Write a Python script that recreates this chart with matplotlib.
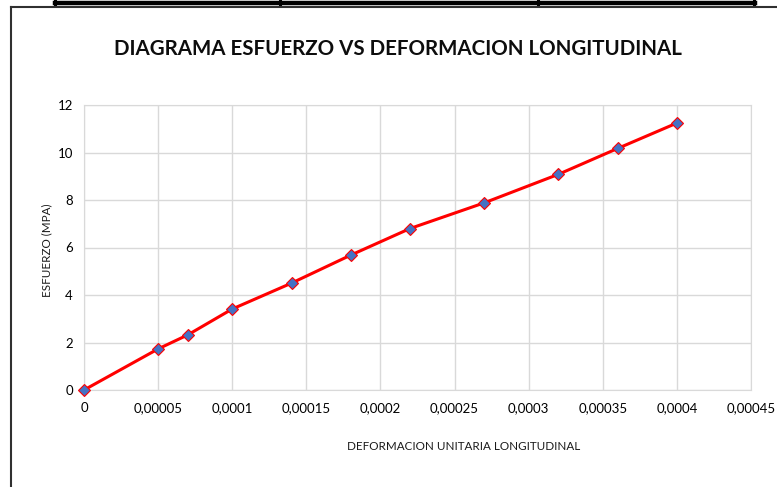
import matplotlib
matplotlib.use("Agg")
import matplotlib.pyplot as plt
from matplotlib.lines import Line2D
from matplotlib.ticker import FuncFormatter, MultipleLocator

# deformacion unitaria y esfuerzo (MPa) del ensayo
deformacion = [0, 0.00005, 0.00007, 0.0001, 0.00014, 0.00018, 0.00022, 0.00027, 0.00032, 0.00036, 0.0004]
esfuerzo = [0, 1.73, 2.32, 3.41, 4.5, 5.68, 6.8, 7.88, 9.08, 10.17, 11.24]

plt.rcParams['font.family'] = ['Lato', 'DejaVu Sans']

W, H = 777, 487
fig = plt.figure(figsize=(W/100, H/100), dpi=100)
fig.patch.set_facecolor("white")

# bordes de la tabla de arriba y del recuadro del grafico
fig.add_artist(Line2D([55/W, 755/W], [1-2.5/H, 1-2.5/H], color="black", lw=3.2))
for xv in [55, 279.5, 538, 754]:
    fig.add_artist(Line2D([xv/W, xv/W], [1-4/H, 1.0], color="black", lw=2.2))
fig.add_artist(Line2D([10.5/W, 1.0], [1-7/H, 1-7/H], color="#303030", lw=1.5))
fig.add_artist(Line2D([10.5/W, 10.5/W], [0.0, 1-7/H], color="#303030", lw=1.5))

ax = fig.add_axes([84/W, 1-390/H, (751-84)/W, (390-105)/H])
ax.plot(deformacion, esfuerzo, color="#ff0000", lw=2.2, marker="D",
        markersize=6.5, markerfacecolor="#4472c4", markeredgecolor="#ff0000",
        markeredgewidth=0.8, clip_on=False, zorder=3)

ax.set_xlim(0, 0.00045)
ax.set_ylim(0, 12)
ax.xaxis.set_major_locator(MultipleLocator(0.00005))
ax.yaxis.set_major_locator(MultipleLocator(2))

def coma(v, pos):
    if abs(v) < 1e-12:
        return "0"
    s = ("%.5f" % v).rstrip("0")
    return s.replace(".", ",")

ax.xaxis.set_major_formatter(FuncFormatter(coma))
ax.grid(True, color="#d9d9d9", lw=1)
ax.set_axisbelow(True)
for sp in ax.spines.values():
    sp.set_color("#d9d9d9")
ax.tick_params(length=0, labelsize=9.5, colors="#000000", pad=9)
ax.tick_params(axis="y", pad=8)

fig.text(398/W, 1-49/H, "DIAGRAMA ESFUERZO VS DEFORMACION LONGITUDINAL",
         ha="center", va="center", fontsize=14.8, fontweight="bold", color="#0d0d0d")
fig.text(464/W, 1-447/H, "DEFORMACION UNITARIA LONGITUDINAL",
         ha="center", va="center", fontsize=8.4, color="#1a1a1a")
fig.text(47/W, 1-250/H, "ESFUERZO (MPA)", rotation=90,
         ha="center", va="center", fontsize=8.4, color="#1a1a1a")

fig.savefig("out.png", dpi=100)
